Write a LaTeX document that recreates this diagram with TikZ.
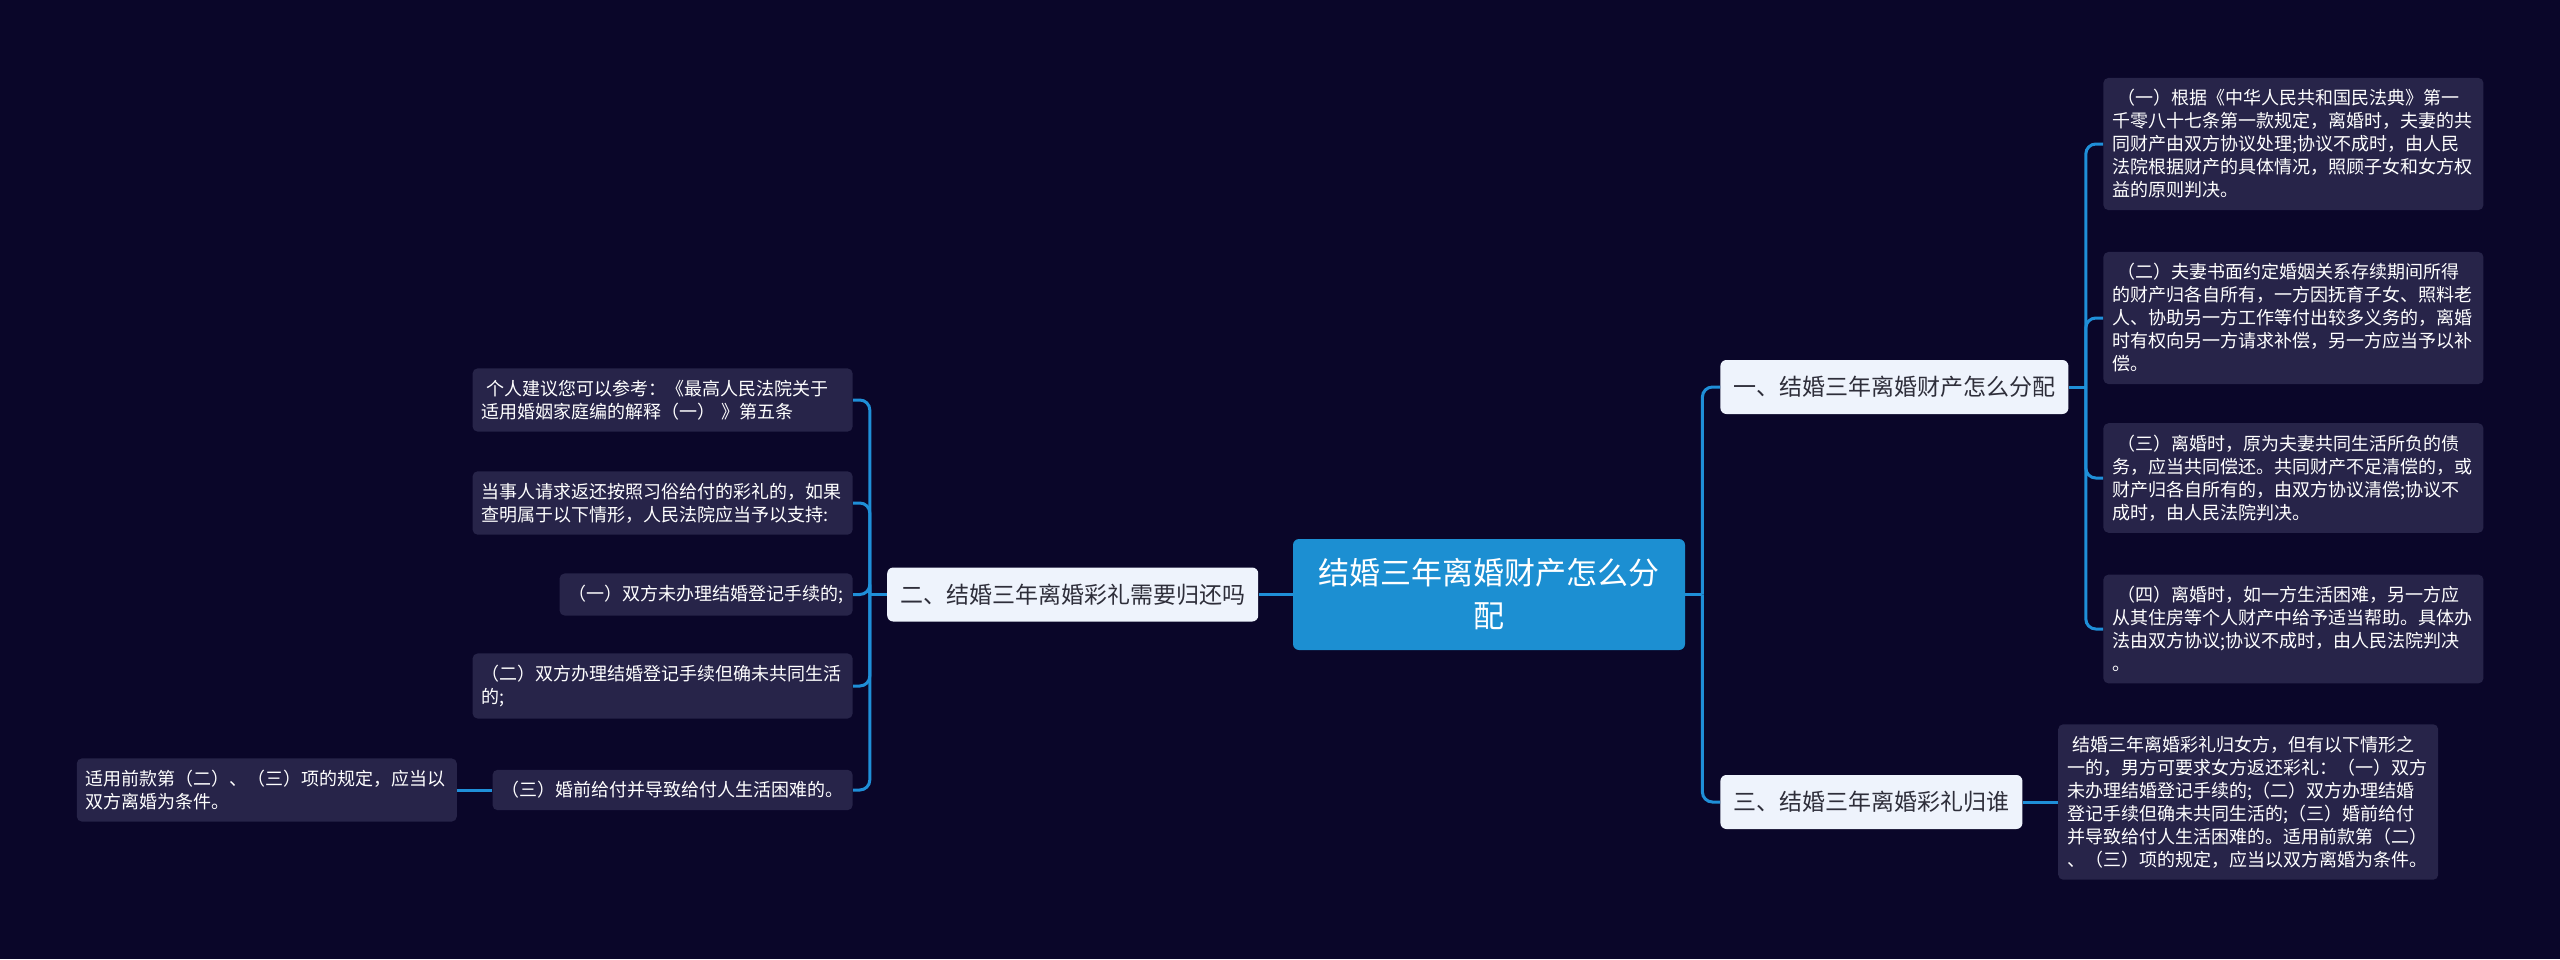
\documentclass[tikz,border=0pt]{standalone}
\usepackage{fontspec}
\newfontfamily\cjk{Noto Sans CJK SC}
\usetikzlibrary{positioning,calc}
\definecolor{bgnavy}{HTML}{0A0629}
\definecolor{leaffill}{HTML}{272449}
\definecolor{rootblue}{HTML}{1C8FD2}
\definecolor{linkblue}{HTML}{1F8FD8}
\definecolor{topicfill}{HTML}{EEF3FC}
\definecolor{topictext}{HTML}{2E2E3A}

\begin{document}
\begin{tikzpicture}[x=0.5pt,y=-0.5pt,font=\cjk,
  root/.style={fill=rootblue,text=white,rounded corners=3pt,align=center,text width=171pt,inner xsep=12.5pt,minimum height=55.5pt,font=\cjk\fontsize{15.5}{21.5}\selectfont},
  topic/.style={fill=topicfill,text=topictext,rounded corners=3pt,inner xsep=6.5pt,minimum height=27pt,font=\cjk\fontsize{11.5}{14}\selectfont},
  leaf/.style={fill=leaffill,text=white,rounded corners=2.5pt,align=left,inner xsep=4.5pt,inner ysep=5.8pt,font=\cjk\fontsize{9}{11.5}\selectfont},
  wide/.style={leaf,text width=181pt},
  link/.style={draw=linkblue,line width=1.5pt,rounded corners=5pt}]
  \fill[bgnavy] (0,0) rectangle (2560,959);
  % centre and the two sides
  \node[root] (root) at (1489,594.5) {结婚三年离婚财产怎么分\\配};
  \node[topic,anchor=west] (n1) at (1720,387) {一、结婚三年离婚财产怎么分配};
  \node[topic,anchor=west] (n3) at (1720,802) {三、结婚三年离婚彩礼归谁};
  \node[topic,left=17pt of root] (n2) {二、结婚三年离婚彩礼需要归还吗};
  % right leaves
  \node[wide,anchor=west] (c1) at (2103,144) {\hspace*{2.5pt}（一）根据《中华人民共和国民法典》第一\\千零八十七条第一款规定，离婚时，夫妻的共\\同财产由双方协议处理;协议不成时，由人民\\法院根据财产的具体情况，照顾子女和女方权\\益的原则判决。};
  \node[wide,anchor=west] (c2) at (2103,318) {\hspace*{2.5pt}（二）夫妻书面约定婚姻关系存续期间所得\\的财产归各自所有，一方因抚育子女、照料老\\人、协助另一方工作等付出较多义务的，离婚\\时有权向另一方请求补偿，另一方应当予以补\\偿。};
  \node[wide,anchor=west] (c3) at (2103,478) {\hspace*{2.5pt}（三）离婚时，原为夫妻共同生活所负的债\\务，应当共同偿还。共同财产不足清偿的，或\\财产归各自所有的，由双方协议清偿;协议不\\成时，由人民法院判决。};
  \node[wide,anchor=west] (c4) at (2103,629) {\hspace*{2.5pt}（四）离婚时，如一方生活困难，另一方应\\从其住房等个人财产中给予适当帮助。具体办\\法由双方协议;协议不成时，由人民法院判决\\。};
  \node[wide,right=17.5pt of n3] (d1) {\hspace*{2.5pt}结婚三年离婚彩礼归女方，但有以下情形之\\一的，男方可要求女方返还彩礼：（一）双方\\未办理结婚登记手续的;（二）双方办理结婚\\登记手续但确未共同生活的;（三）婚前给付\\并导致给付人生活困难的。适用前款第（二）\\、（三）项的规定，应当以双方离婚为条件。};
  % left leaves
  \node[wide,anchor=east] (a1) at (853,400) {\hspace*{2.5pt}个人建议您可以参考：《最高人民法院关于\\适用婚姻家庭编的解释（一） 》第五条};
  \node[wide,anchor=east] (a2) at (853,503) {当事人请求返还按照习俗给付的彩礼的，如果\\查明属于以下情形，人民法院应当予以支持:};
  \node[leaf,anchor=east] (a3) at (853,594.5) {（一）双方未办理结婚登记手续的;};
  \node[wide,anchor=east] (a4) at (853,686) {（二）双方办理结婚登记手续但确未共同生活\\的;};
  \node[leaf,anchor=east] (a5) at (853,790) {（三）婚前给付并导致给付人生活困难的。};
  \node[wide,left=17.5pt of a5] (f1) {适用前款第（二）、（三）项的规定，应当以\\双方离婚为条件。};
  % connectors
  \draw[link] (root.east) -- ++(17,0) coordinate (jr);
  \draw[link] (jr) |- (n1.west);
  \draw[link] (jr) |- (n3.west);
  \draw[link] (n1.east) -- ++(17,0) coordinate (j1);
  \foreach \c in {c1,c2,c3,c4} \draw[link] (j1) |- (\c.west);
  \draw[link] (n3.east) -- (d1.west);
  \draw[link] (root.west) -- (n2.east);
  \draw[link] (n2.west) -- ++(-17,0) coordinate (j2);
  \foreach \a in {a1,a2,a3,a4,a5} \draw[link] (j2) |- (\a.east);
  \draw[link] (a5.west) -- (f1.east);
\end{tikzpicture}
\end{document}
